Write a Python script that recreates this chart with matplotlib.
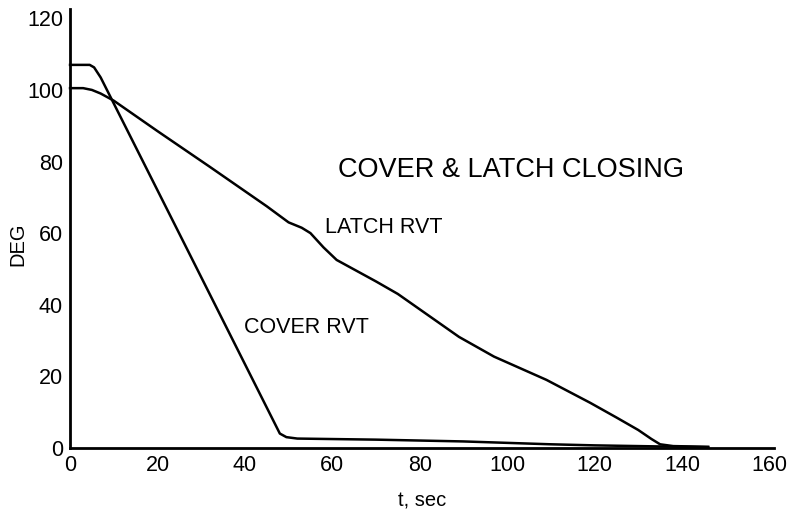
import matplotlib.pyplot as plt

plt.rcParams['font.family'] = ['Liberation Sans', 'DejaVu Sans']

# valores (t en seg, angulo en grados)
cover_t = [0, 4.5, 5.5, 7, 27, 48, 49.5, 52, 70, 90, 100, 110, 120, 135, 146]
cover_deg = [107, 107, 106.3, 103.5, 55, 4, 3, 2.6, 2.3, 1.8, 1.4, 1.0, 0.7, 0.4, 0.2]

latch_t = [0, 3, 5, 7, 10, 20, 32, 45, 50, 53, 55, 58, 61, 64, 70, 75, 89, 97,
           109, 119, 125, 130, 133, 135, 138, 146]
latch_deg = [100.5, 100.5, 100, 99, 97, 88.5, 78.5, 67.5, 63, 61.5, 60, 56, 52.5, 50.5,
             46.5, 43, 31, 25.5, 19, 12.6, 8.5, 5, 2.5, 1, 0.5, 0.3]

xticks = [0, 20, 40, 60, 80, 100, 120, 140, 160]
yticks = [0, 20, 40, 60, 80, 100, 120]

fig = plt.figure(figsize=(7.96, 5.22), dpi=100)
ax = fig.add_axes([0.088, 0.142, 0.884, 0.840])

ax.plot(cover_t, cover_deg, color='black', lw=1.8, clip_on=False)
ax.plot(latch_t, latch_deg, color='black', lw=1.8, clip_on=False)

ax.set_xlim(0, 161)
ax.set_ylim(0, 122.5)
ax.set_xticks(xticks)
ax.set_yticks(yticks)
ax.tick_params(length=0, labelsize=15.5, pad=5)

for s in ['top', 'right']:
    ax.spines[s].set_visible(False)
for s in ['left', 'bottom']:
    ax.spines[s].set_linewidth(2)

ax.set_xlabel('t, sec', fontsize=14.5, labelpad=11)
ax.set_ylabel('DEG', fontsize=14.5)
ax.yaxis.set_label_coords(-0.061, 0.465)

ax.text(100.8, 77.5, 'COVER & LATCH CLOSING', fontsize=19.5, ha='center', va='center')
ax.text(71.8, 61.5, 'LATCH RVT', fontsize=15.5, ha='center', va='center')
ax.text(54.2, 33.5, 'COVER RVT', fontsize=15.5, ha='center', va='center')

plt.savefig('out.png', dpi=100)
